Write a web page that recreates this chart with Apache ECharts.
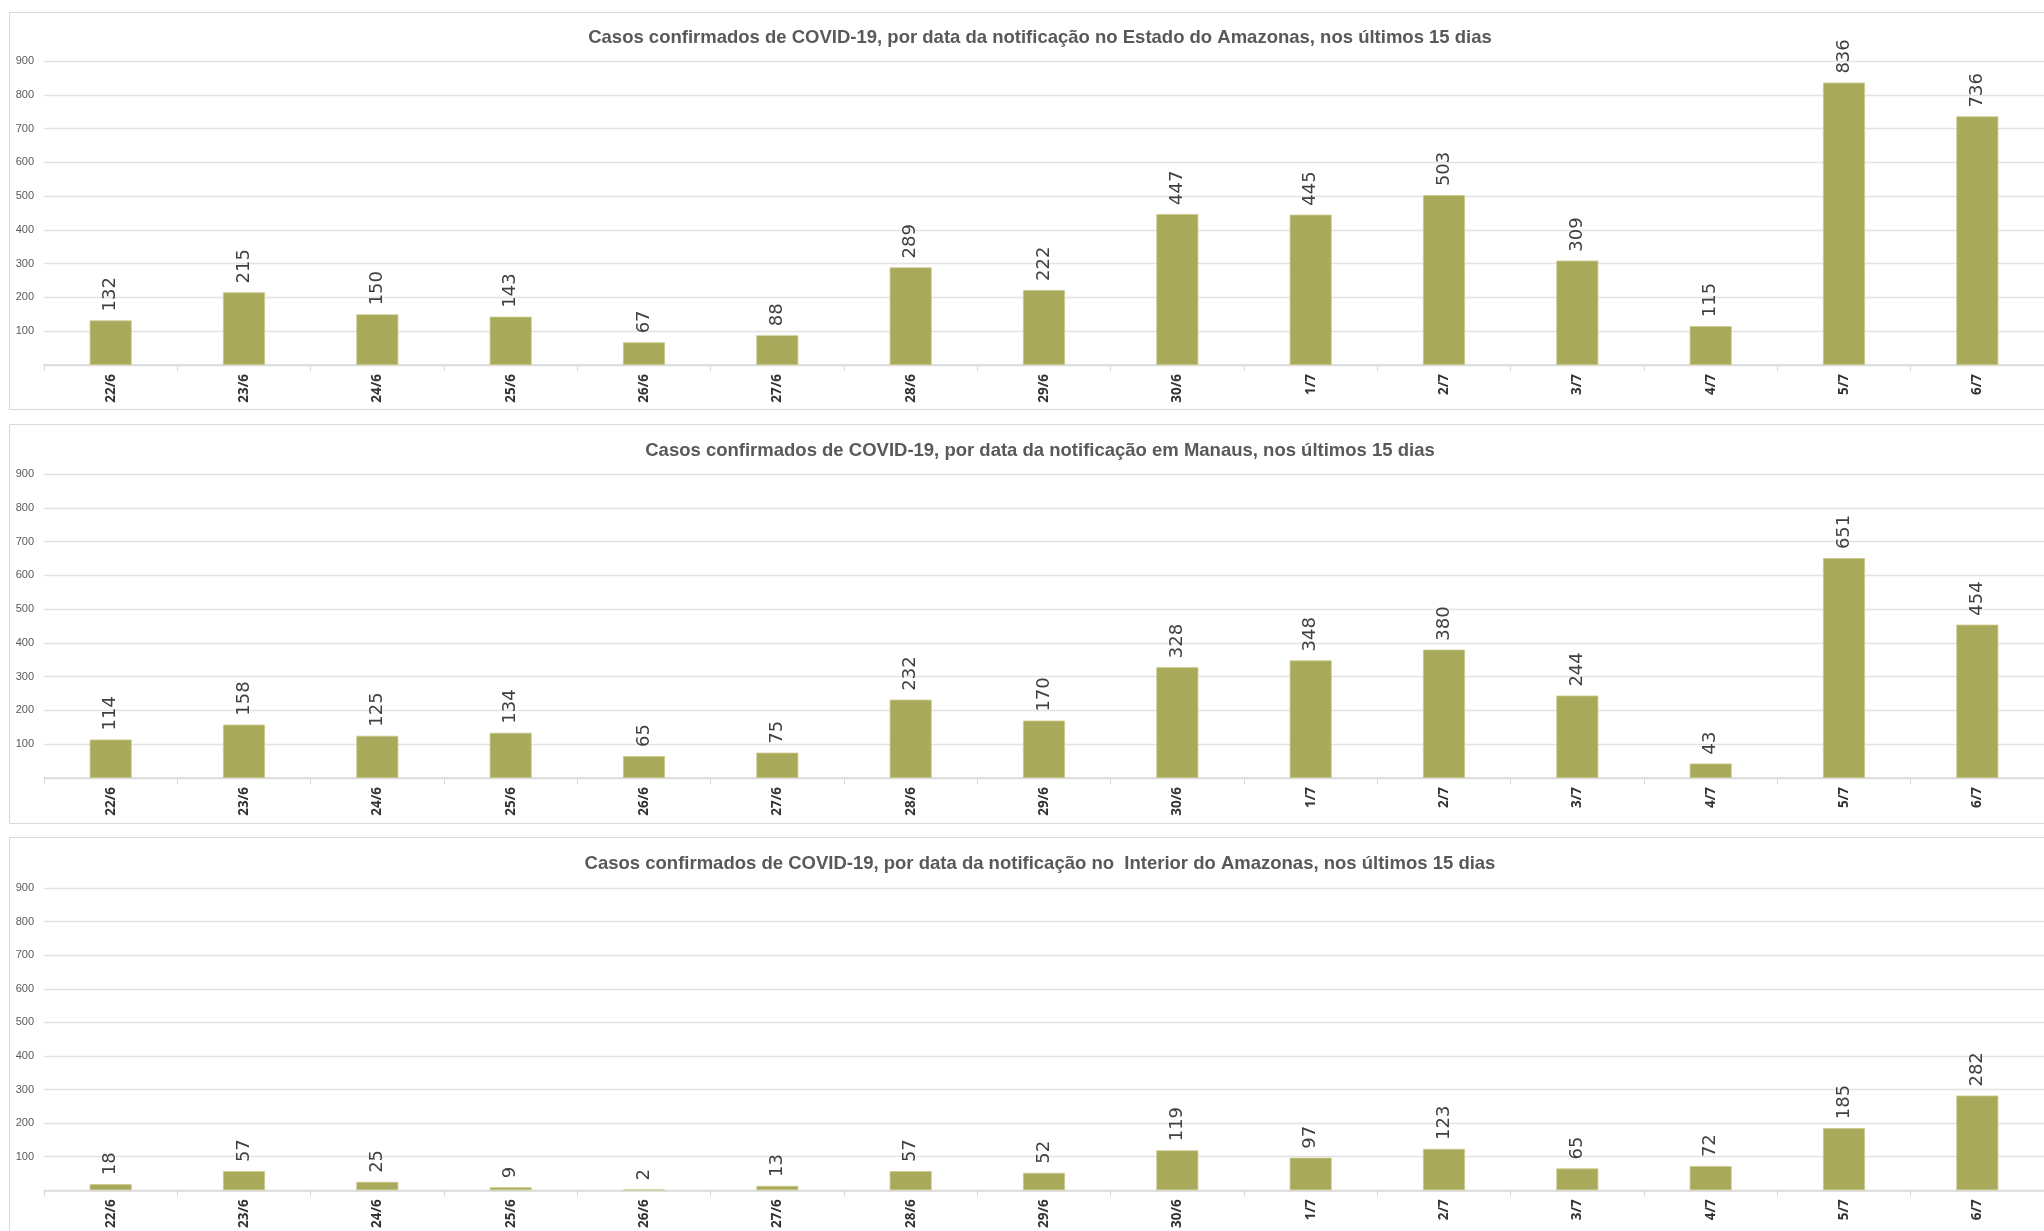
<!DOCTYPE html>
<html><head><meta charset="utf-8">
<script src="https://cdn.jsdelivr.net/npm/echarts@6/dist/echarts.min.js"></script>
<style>html,body{margin:0;padding:0;background:#fff}#c{width:2044px;height:1231px}</style>
</head><body><div id="c"></div>
<script>
const categories = ['22/6','23/6','24/6','25/6','26/6','27/6','28/6','29/6','30/6','1/7','2/7','3/7','4/7','5/7','6/7'];
const estado = [132,215,150,143,67,88,289,222,447,445,503,309,115,836,736];
const manaus = [114,158,125,134,65,75,232,170,328,348,380,244,43,651,454];
const interior = [18,57,25,9,2,13,57,52,119,97,123,65,72,185,282];
const titles = [
  'Casos confirmados de COVID-19, por data da notificação no Estado do Amazonas, nos últimos 15 dias',
  'Casos confirmados de COVID-19, por data da notificação em Manaus, nos últimos 15 dias',
  'Casos confirmados de COVID-19, por data da notificação no  Interior do Amazonas, nos últimos 15 dias'
];
const yTicks = {min:0, max:900, interval:100};

const seriesData = [estado, manaus, interior];
const gridTops = [61, 474, 888];
const titleTops = [23, 436, 849];
const panelTops = [12, 424, 837];
const panelHeights = [397, 399, 420];
const color = '#a9a95b';

const chart = echarts.init(document.getElementById('c'));
const opt = {
  backgroundColor:'#fff',
  animation:false,
  title: titles.map((t,i)=>({text:t, left:1035, textAlign:'center', top:titleTops[i],
    textStyle:{fontFamily:'Liberation Sans, sans-serif', fontWeight:'bold', fontSize:18.5, color:'#595959'}})),
  graphic: panelTops.map((t,i)=>({type:'rect', shape:{x:9.5,y:t+0.5,width:2060,height:panelHeights[i]}, style:{fill:'none', stroke:'#d9d9d9', lineWidth:1}, z:-1})),
  grid: gridTops.map(t=>({left:44, top:t, width:2006, height:304})),
  xAxis: gridTops.map((t,i)=>({type:'category', gridIndex:i, data:categories,
    axisLine:{lineStyle:{color:'#d9d9d9', width:1.5}},
    axisTick:{show:true, length:6, lineStyle:{color:'#d9d9d9'}},
    axisLabel:{rotate:90, fontSize:13.5, fontWeight:'bold', color:'#333333', fontFamily:'Open Sans, Liberation Sans, sans-serif', margin:9}})),
  yAxis: gridTops.map((t,i)=>({type:'value', gridIndex:i, min:yTicks.min, max:yTicks.max, interval:yTicks.interval,
    axisLine:{show:false}, axisTick:{show:false},
    splitLine:{lineStyle:{color:'#e3e3e3', width:1.3}},
    axisLabel:{fontSize:11, color:'#595959', margin:10, fontFamily:'Liberation Sans, sans-serif',
      formatter:v=>v===0?'':String(v)}})),
  series: seriesData.map((d,i)=>({type:'bar', xAxisIndex:i, yAxisIndex:i, data:d, barWidth:42,
    itemStyle:{color:color, borderColor:'#c9c98a', borderWidth:0.8},
    label:{show:true, position:'top', rotate:90, align:'left', verticalAlign:'middle', distance:9,
      fontSize:18, color:'#404040', fontFamily:'DejaVu Sans, sans-serif'}}))
};
chart.setOption(opt);
</script></body></html>
